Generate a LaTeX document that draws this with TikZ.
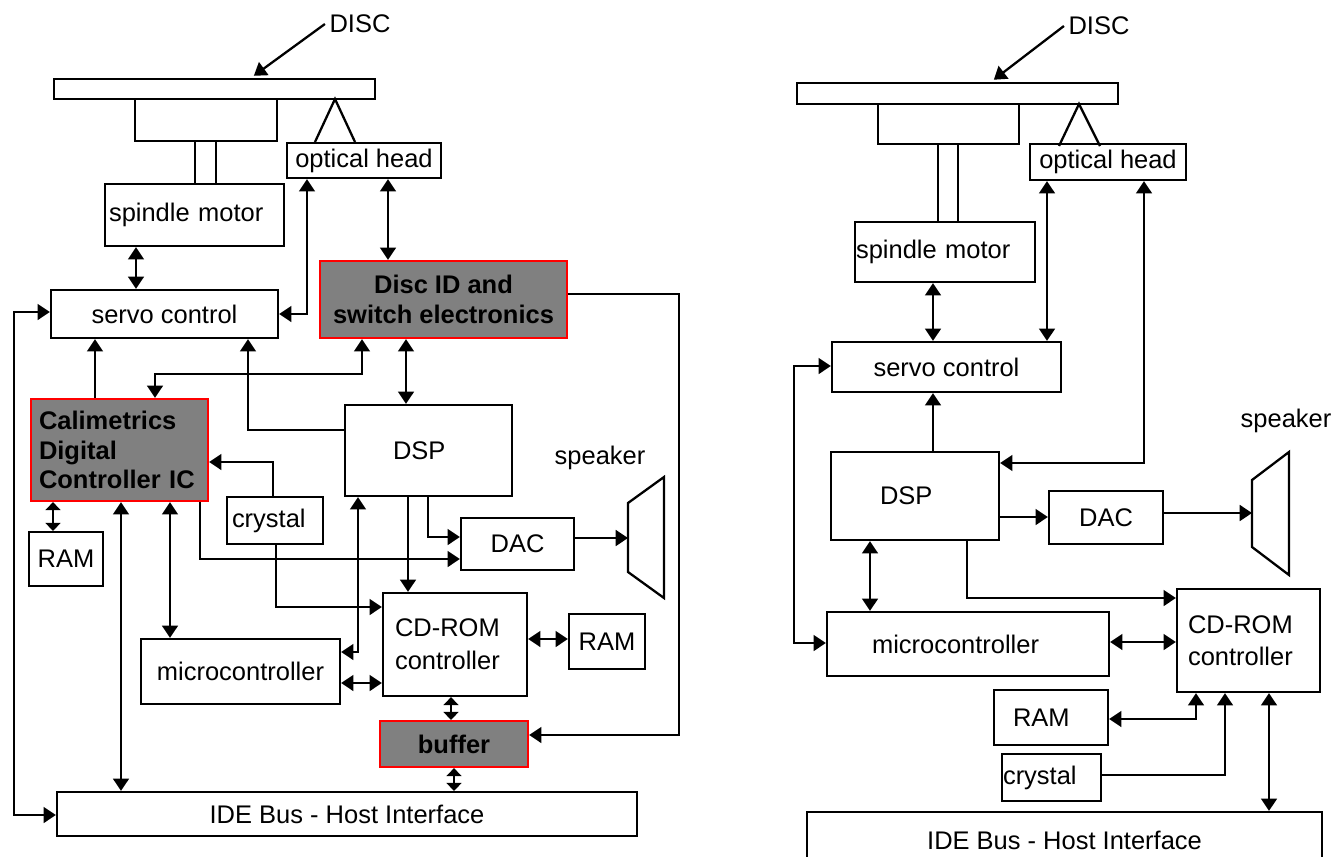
\documentclass[tikz,border=0pt]{standalone}
\usepackage{fontspec}
\setmainfont{Liberation Sans}
\usetikzlibrary{arrows.meta}
\definecolor{chipgray}{RGB}{128,128,128}

\begin{document}
\begin{tikzpicture}[x=0.02cm, y=-0.02cm, line width=1.3pt,
	box/.style={draw, inner sep=0pt, font=\fontsize{14.5}{17.5}\selectfont},
	sz/.style 2 args={minimum width=#1*0.02cm, minimum height=#2*0.02cm},
	chip/.style={box, draw=red, fill=chipgray, font=\fontsize{14.5}{17}\selectfont\bfseries},
	lbl/.style={inner sep=2pt, font=\fontsize{14.5}{17.5}\selectfont},
	short/.style={>={Triangle[length=4.5pt,width=8.5pt]}},
	>={Triangle[length=7pt,width=9pt]}]

	\useasboundingbox (0,0) rectangle (1331,856);

	% left: drive with the Calimetrics chip
	\node[lbl] (disctxt) at (360,24) {DISC};
	\node[box, sz={321}{20}] (disc) at (214.5,89) {};
	\draw (135,99) rectangle (277,141);
	\draw (195,141) rectangle (216,184);
	\draw (315,142) -- (335,99) -- (355,142);

	\node[box, sz={179}{62}, text width=3.42cm, align=left] (spindle) at (194.5,215) {spindle motor};
	\node[box, sz={154}{35}] (optic) at (364,160.5) {optical head};
	\node[box, sz={227}{48}] (servo) at (164.5,314) {servo control};
	\node[chip, sz={247}{77}, align=center] (discid) at (443.5,299.5) {Disc ID and\\switch electronics};
	\node[chip, sz={177}{102}, text width=3.22cm, align=left] (cali) at (119.5,450) {Calimetrics\\Digital\\Controller IC};
	\node[box, sz={167}{91}, text width=1.42cm, align=left] (dsp) at (428.5,450.5) {DSP};
	\node[box, sz={96}{47}, text width=1.72cm, align=left] (crystal) at (275,520.5) {crystal};
	\node[box, sz={113}{52}] (dac) at (517.5,544) {DAC};
	\node[box, sz={74}{54}] (ram) at (66,559) {RAM};
	\node[box, sz={144}{103}, text width=2.4cm, align=left, font=\fontsize{14.5}{19}\selectfont] (cdrom) at (455,644.5) {CD-ROM\\controller};
	\node[box, sz={76}{55}] (ramcd) at (607,641.5) {RAM};
	\node[box, sz={199}{65}] (micro) at (240.5,671.5) {microcontroller};
	\node[chip, sz={148}{46}] (buffer) at (454,744) {buffer};
	\node[box, sz={580}{44}] (ide) at (347,814) {IDE Bus - Host Interface};
	\node[lbl] (spktxt) at (600,458) {speaker};
	\draw (628,503) -- (664,477) -- (664,598) -- (628,572) -- cycle;
	\coordinate (spk) at (628,538);

	\draw[->, shorten >=2pt] (disctxt.west) -- (251,0 |- disc.north);
	\draw[<->] (388,0 |- optic.south) -- (388,0 |- discid.north);
	\draw[<->] (307,0 |- optic.south) |- (servo.east);
	\draw[<->] (136,0 |- spindle.south) -- (136,0 |- servo.north);
	\draw[->] (95,0 |- cali.north) -- (95,0 |- servo.south);
	\draw[->] (dsp.west |- 0,430) -| (248,0 |- servo.south);
	\draw[<->] (362,0 |- discid.south) -- (362,374) -| (155,0 |- cali.north);
	\draw[<->] (406,0 |- discid.south) -- (406,0 |- dsp.north);
	\draw[->] (273,0 |- crystal.north) |- (cali.east |- 0,462);
	\draw[->] (276,0 |- crystal.south) |- (cdrom.west |- 0,607);
	\draw[->] (200,0 |- cali.south) |- (dac.west |- 0,559);
	\draw[->] (428,0 |- dsp.south) |- (dac.west |- 0,537);
	\draw[->] (408,0 |- dsp.south) -- (408,0 |- cdrom.north);
	\draw[<->] (micro.east |- 0,652) -| (358,0 |- dsp.south);
	\draw[<->] (micro.east |- 0,683) -- (cdrom.west |- 0,683);
	\draw[<->] (170,0 |- cali.south) -- (170,0 |- micro.north);
	\draw[<->] (121,0 |- cali.south) -- (121,0 |- ide.north);
	\draw[<->, short] (53,0 |- cali.south) -- (53,0 |- ram.north);
	\draw[<->] (cdrom.east |- 0,639) -- (ramcd.west |- 0,639);
	\draw[<->, short] (451,0 |- cdrom.south) -- (451,0 |- buffer.north);
	\draw[<->, short] (454,0 |- buffer.south) -- (454,0 |- ide.north);
	\draw[->] (discid.east |- 0,294) -- (679,294) |- (buffer.east |- 0,735);
	\draw[<->] (servo.west |- 0,312) -- (14,312) -- (14,815) -- (ide.west |- 0,815);
	\draw[->] (dac.east |- 0,538) -- (spk);

	% right: standard drive
	\node[lbl] (disctxtB) at (1099,26) {DISC};
	\node[box, sz={321}{21}] (discB) at (957.5,93.5) {};
	\draw (878,104) rectangle (1019,144);
	\draw (938,144) rectangle (958,222);
	\draw (1059,146) -- (1079,104) -- (1100,146);

	\node[box, sz={180}{60}, text width=3.56cm, align=left] (spindleB) at (945,252) {spindle motor};
	\node[box, sz={156}{36}] (opticB) at (1108,162) {optical head};
	\node[box, sz={229}{50}] (servoB) at (946.5,367) {servo control};
	\node[box, sz={168}{88}, text width=1.4cm, align=left] (dspB) at (915,496) {DSP};
	\node[box, sz={114}{53}] (dacB) at (1106,517.5) {DAC};
	\node[box, sz={282}{64}, text width=3.84cm, align=left] (microB) at (968,644) {microcontroller};
	\node[box, sz={143}{103}, text width=2.42cm, align=left, font=\fontsize{14.5}{18}\selectfont] (cdromB) at (1248.5,640.5) {CD-ROM\\controller};
	\node[box, sz={114}{55}, text width=1.52cm, align=left] (ramB) at (1051,717.5) {RAM};
	\node[box, sz={99}{47}, text width=1.94cm, align=left] (crystalB) at (1051.5,777.5) {crystal};
	\node[box, sz={515}{56}] (ideB) at (1064.5,840) {IDE Bus - Host Interface};
	\node[lbl] (spktxtB) at (1286,421) {speaker};
	\draw (1252,480) -- (1289,452) -- (1289,575) -- (1252,547) -- cycle;
	\coordinate (spkB) at (1252,513);

	\draw[->, shorten >=2pt] (disctxtB.west) -- (991,0 |- discB.north);
	\draw[<->] (1047,0 |- opticB.south) -- (1047,0 |- servoB.north);
	\draw[<->] (1144,0 |- opticB.south) |- (dspB.east |- 0,463);
	\draw[<->] (933,0 |- spindleB.south) -- (933,0 |- servoB.north);
	\draw[->] (933,0 |- dspB.north) -- (933,0 |- servoB.south);
	\draw[<->] (servoB.west |- 0,366) -- (794,366) |- (microB.west |- 0,643);
	\draw[->] (dspB.east |- 0,517) -- (dacB.west |- 0,517);
	\draw[->] (dacB.east |- 0,513) -- (spkB);
	\draw[<->] (870,0 |- dspB.south) -- (870,0 |- microB.north);
	\draw[->] (967,0 |- dspB.south) |- (cdromB.west |- 0,598);
	\draw[<->] (microB.east |- 0,642) -- (cdromB.west |- 0,642);
	\draw[<->] (ramB.east |- 0,719) -| (1196,0 |- cdromB.south);
	\draw[->] (crystalB.east |- 0,775) -| (1225,0 |- cdromB.south);
	\draw[<->] (1269,0 |- cdromB.south) -- (1269,0 |- ideB.north);

\end{tikzpicture}
\end{document}
